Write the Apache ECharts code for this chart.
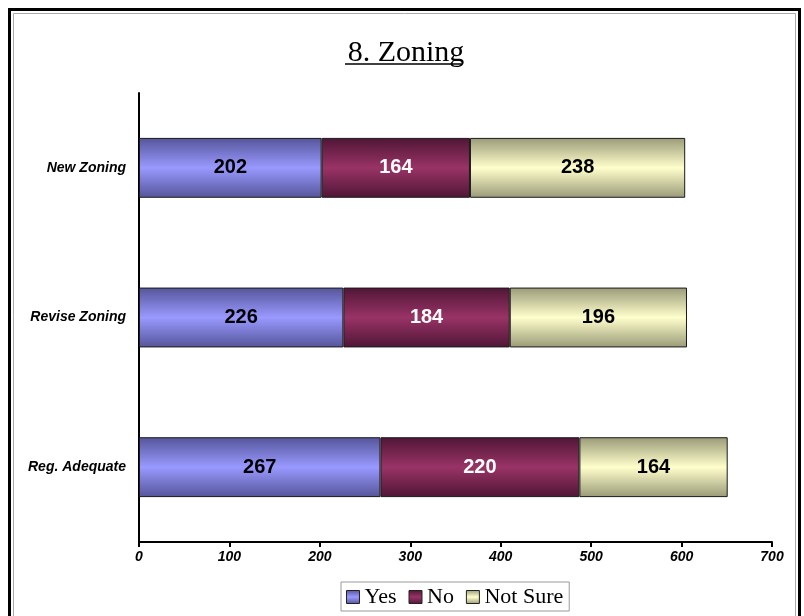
<!DOCTYPE html>
<html>
<head>
<meta charset="utf-8">
<script src="https://cdn.jsdelivr.net/npm/echarts@6/dist/echarts.min.js"></script>
<style>html,body{margin:0;padding:0;background:#fff}#c{width:804px;height:616px}</style>
</head>
<body>
<div id="c"></div>
<script>
const categories = ['Reg. Adequate', 'Revise Zoning', 'New Zoning'];
const yesValues = [267, 226, 202];
const noValues = [220, 184, 164];
const notSureValues = [164, 196, 238];
const xTicks = [0, 100, 200, 300, 400, 500, 600, 700];

function grad(dark, light) {
  return new echarts.graphic.LinearGradient(0, 0, 0, 1, [
    { offset: 0, color: dark },
    { offset: 0.5, color: light },
    { offset: 1, color: dark }
  ]);
}

const chart = echarts.init(document.getElementById('c'));
const labelBase = { show: true, position: 'inside', fontFamily: 'Liberation Sans, Arial', fontWeight: 'bold', fontSize: 20 };
const itemBase = { borderColor: '#1a1a1a', borderWidth: 1 };

chart.setOption({
  animation: false,
  backgroundColor: '#fff',
  title: {
    text: '8. Zoning',
    left: 401, top: 33, textAlign: 'center',
    textStyle: { fontFamily: 'Liberation Serif, serif', fontWeight: 'normal', fontSize: 30, color: '#000' }
  },
  graphic: [
    { type: 'line', shape: { x1: 345, y1: 64, x2: 461, y2: 64 }, style: { stroke: '#000', lineWidth: 1.5 } },
    { type: 'rect', shape: { x: 9.5, y: 9.5, width: 790, height: 700 }, style: { fill: 'none', stroke: '#000', lineWidth: 3 } },
    { type: 'rect', shape: { x: 13.5, y: 13.5, width: 782, height: 700 }, style: { fill: 'none', stroke: '#aaa', lineWidth: 1 } }
  ],
  legend: {
    left: 341, top: 582,
    data: ['Yes', 'No', 'Not Sure'],
    itemWidth: 13, itemHeight: 13, itemGap: 12,
    icon: 'rect',
    borderColor: '#999', borderWidth: 1, padding: [4, 6, 3, 5],
    textStyle: { fontFamily: 'Liberation Serif, serif', fontSize: 22, color: '#000' },
    itemStyle: { borderColor: '#222', borderWidth: 1 }
  },
  grid: { left: 139, right: 32, top: 93, bottom: 74, containLabel: false },
  xAxis: {
    type: 'value', min: 0, max: 700, interval: 100,
    axisLine: { show: true, lineStyle: { color: '#000', width: 2 } },
    axisTick: { show: true, length: 5, lineStyle: { color: '#000', width: 2 } },
    splitLine: { show: false },
    axisLabel: { color: '#000', fontFamily: 'Liberation Sans, Arial', fontWeight: 'bold', fontStyle: 'italic', fontSize: 14, margin: 8,
      formatter: v => xTicks.includes(v) ? String(v) : '' }
  },
  yAxis: {
    type: 'category', data: categories,
    axisLine: { show: true, lineStyle: { color: '#000', width: 2 } },
    axisTick: { show: false },
    axisLabel: { color: '#000', fontFamily: 'Liberation Sans, Arial', fontWeight: 'bold', fontStyle: 'italic', fontSize: 14, margin: 13 }
  },
  series: [
    { name: 'Yes', type: 'bar', stack: 's', barWidth: '40%', data: yesValues,
      itemStyle: Object.assign({ color: grad('#55559a', '#9999ff') }, itemBase),
      label: Object.assign({ color: '#000' }, labelBase) },
    { name: 'No', type: 'bar', stack: 's', barWidth: '40%', data: noValues,
      itemStyle: Object.assign({ color: grad('#4f1636', '#993366') }, itemBase),
      label: Object.assign({ color: '#fff' }, labelBase) },
    { name: 'Not Sure', type: 'bar', stack: 's', barWidth: '40%', data: notSureValues,
      itemStyle: Object.assign({ color: grad('#9a9a78', '#ffffcc') }, itemBase),
      label: Object.assign({ color: '#000' }, labelBase) }
  ]
});
</script>
</body>
</html>
